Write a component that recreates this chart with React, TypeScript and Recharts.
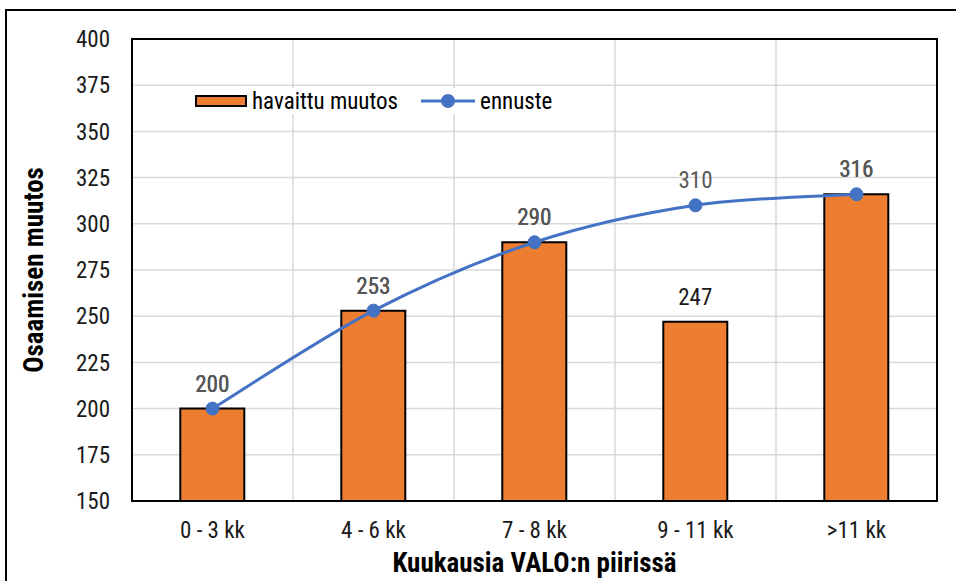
import React from "react";
import {
  ComposedChart,
  Bar,
  Line,
  XAxis,
  YAxis,
  CartesianGrid,
  LabelList,
  Label,
  Legend,
  ReferenceArea,
} from "recharts";

const categories = ["0 - 3 kk", "4 - 6 kk", "7 - 8 kk", "9 - 11 kk", ">11 kk"];
const observed = [200, 253, 290, 247, 316];
const forecast = [200, 253, 290, 310, 316];
const yTicks = [150, 175, 200, 225, 250, 275, 300, 325, 350, 375, 400];

const data = categories.map((c, i) => ({ cat: c, observed: observed[i], forecast: forecast[i] }));

const FONT = "'Liberation Sans Narrow', 'Arial Narrow', 'Roboto Condensed', 'Liberation Sans', sans-serif";
const ORANGE = "#ED7D31";
const BLUE = "#4472C4";

// Excel-like smoothed line (Catmull-Rom to Bezier)
const excelCurve = (context: any) => {
  let pts: number[][] = [];
  return {
    areaStart() {},
    areaEnd() {},
    lineStart() {
      pts = [];
    },
    point(x: number, y: number) {
      pts.push([+x, +y]);
    },
    lineEnd() {
      const n = pts.length;
      if (!n) return;
      context.moveTo(pts[0][0], pts[0][1]);
      for (let i = 0; i < n - 1; i++) {
        const p0 = pts[Math.max(i - 1, 0)];
        const p1 = pts[i];
        const p2 = pts[i + 1];
        const p3 = pts[Math.min(i + 2, n - 1)];
        context.bezierCurveTo(
          p1[0] + (p2[0] - p0[0]) / 6,
          p1[1] + (p2[1] - p0[1]) / 6,
          p2[0] - (p3[0] - p1[0]) / 6,
          p2[1] - (p3[1] - p1[1]) / 6,
          p2[0],
          p2[1]
        );
      }
    },
  };
};

const LegendContent = () => (
  <div
    style={{
      display: "flex",
      alignItems: "center",
      background: "#fff",
      fontFamily: FONT,
      fontSize: 23,
      color: "#000",
      padding: "2px 6px 2px 5px",
      height: 22,
    }}
  >
    <div style={{ width: 52, height: 12, background: ORANGE, border: "2px solid #000", boxSizing: "border-box" }} />
    <span style={{ marginLeft: 5 }}>havaittu muutos</span>
    <svg width={54} height={16} style={{ marginLeft: 23 }}>
      <line x1={0} y1={8} x2={54} y2={8} stroke={BLUE} strokeWidth={3} />
      <circle cx={27} cy={8} r={7} fill={BLUE} />
    </svg>
    <span style={{ marginLeft: 5 }}>ennuste</span>
  </div>
);

export default function App() {
  return (
    <div style={{ position: "fixed", left: 0, top: 0, width: 956, height: 581, overflow: "hidden", background: "#fff" }}>
      <div
        style={{
          position: "absolute",
          left: 5,
          top: 9,
          width: 1200,
          height: 1000,
          border: "2px solid #000",
          boxSizing: "border-box",
        }}
      />
      <div style={{ position: "absolute", left: 0, top: 0 }}>
        <ComposedChart
          width={956}
          height={581}
          data={data}
          margin={{ top: 39, right: 19, left: 0, bottom: 0 }}
          barCategoryGap="30%"
          style={{ fontFamily: FONT }}
        >
          <CartesianGrid
            stroke="#d9d9d9"
            strokeWidth={1.5}
            verticalCoordinatesGenerator={({ offset }: any) =>
              categories.map((_, i) => offset.left + (i * offset.width) / categories.length)
            }
          />
          <XAxis
            dataKey="cat"
            height={80}
            tickLine={false}
            axisLine={false}
            tickSize={0}
            tickMargin={21}
            tick={{ fill: "#1a1a1a", fontSize: 23, fontFamily: FONT }}
            interval={0}
          >
            <Label
              value="Kuukausia VALO:n piirissä"
              position="insideBottom"
              offset={9}
              style={{ fontWeight: 700, fontSize: 27, fill: "#000", fontFamily: FONT }}
            />
          </XAxis>
          <YAxis
            width={132}
            domain={[150, 400]}
            ticks={yTicks}
            interval={0}
            tickLine={false}
            axisLine={false}
            tickSize={0}
            tickMargin={22}
            tick={{ fill: "#1a1a1a", fontSize: 23, fontFamily: FONT }}
          >
            <Label
              value="Osaamisen muutos"
              angle={-90}
              position="insideLeft"
              offset={33}
              textAnchor="middle"
              style={{ fontWeight: 700, fontSize: 27, fill: "#000", fontFamily: FONT, textAnchor: "middle" }}
            />
          </YAxis>
          <Legend
            layout="horizontal"
            verticalAlign="middle"
            align="center"
            content={<LegendContent />}
            wrapperStyle={{ position: "absolute", left: 190, top: 88, width: "auto" }}
          />
          <Bar dataKey="observed" fill={ORANGE} stroke="#000" strokeWidth={2} isAnimationActive={false}>
            <LabelList dataKey="observed" position="top" offset={17} fill="#1a1a1a" fontSize={23} fontFamily={FONT} />
          </Bar>
          <Line
            type={excelCurve as any}
            dataKey="forecast"
            stroke={BLUE}
            strokeWidth={3}
            dot={{ r: 6.5, fill: BLUE, stroke: BLUE, strokeWidth: 1 }}
            activeDot={false}
            isAnimationActive={false}
          >
            <LabelList dataKey="forecast" position="top" offset={17} fill="#595959" fontSize={23} fontFamily={FONT} />
          </Line>
          <ReferenceArea y1={150} y2={400} fill="none" stroke="#000" strokeWidth={2} ifOverflow="visible" />
        </ComposedChart>
      </div>
    </div>
  );
}
